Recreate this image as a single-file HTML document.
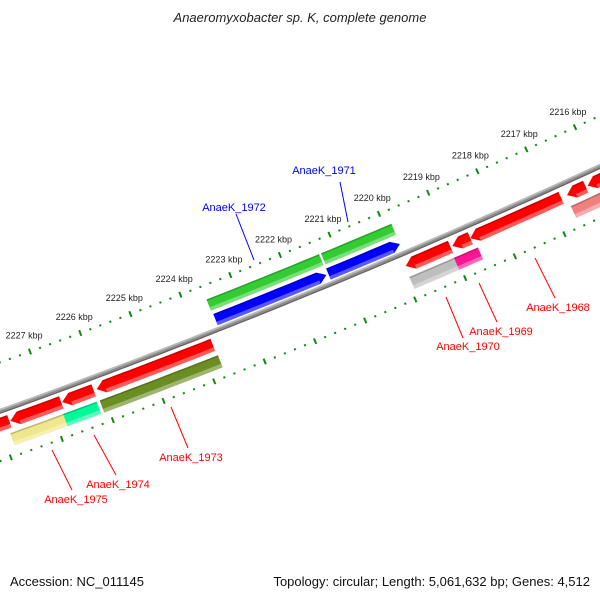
<!DOCTYPE html>
<html><head><meta charset="utf-8"><style>
html,body{margin:0;padding:0;background:#fff;}
svg{display:block;font-family:"Liberation Sans",sans-serif;}
</style></head><body>
<svg id="map" width="600" height="600" viewBox="0 0 600 600" xmlns="http://www.w3.org/2000/svg">
<rect width="600" height="600" fill="#fff"/>
<text x="300" y="22" text-anchor="middle" font-size="13" font-style="italic" fill="#222">Anaeromyxobacter sp. K, complete genome</text>
<text x="10" y="586" font-size="13" fill="#111">Accession: NC_011145</text>
<text x="590" y="586" text-anchor="end" font-size="13" fill="#111">Topology: circular; Length: 5,061,632 bp; Genes: 4,512</text>
<g id="layer"></g>
</svg>
<script>
// ---- data ----
const tickKbp = [2216,2217,2218,2219,2220,2221,2222,2223,2224,2225,2226,2227];
const tickLabels = ["2216 kbp","2217 kbp","2218 kbp","2219 kbp","2220 kbp","2221 kbp","2222 kbp","2223 kbp","2224 kbp","2225 kbp","2226 kbp","2227 kbp"];
// outer red row (arrows point toward higher kbp)
const redStarts = [2227.8, 2226.78, 2226.14, 2223.78, 2219.02, 2218.62, 2216.78, 2216.28, 2214.5];
const redEnds   = [2228.6, 2227.78, 2226.76, 2226.08, 2219.92, 2218.98, 2218.62, 2216.66, 2216.24];
// outer colored row
const rowStarts = [2226.76, 2226.16, 2223.76, 2219.0, 2218.56, 2215.5];
const rowEnds   = [2227.86, 2226.82, 2226.1, 2219.94, 2219.04, 2216.68];
const rowColors = ["#f0e68c","#00fa9a","#6b8e23","#bebebe","#ff1493","#f08080"];
// inner rows
const blueStarts = [2221.34, 2219.86];
const blueEnds   = [2223.56, 2221.30];
const greenStarts = [2221.32, 2219.86];
const greenEnds   = [2223.58, 2221.28];
// gene labels
const geneNames = ["AnaeK_1971","AnaeK_1972","AnaeK_1968","AnaeK_1969","AnaeK_1970","AnaeK_1973","AnaeK_1974","AnaeK_1975"];
const geneLabelX = [324,234,558,501,468,191,118,76];
const geneLabelY = [174,211,311,335,350,461,488,503];
const geneLineFrom = [[340,182],[236,214],[535,258],[479,283],[446,297],[171,407],[94,435],[52,450]];
const geneLineTo = [[348,222],[254,260],[555,298],[497,322],[463,338],[188,448],[116,475],[72,490]];
const geneColors = ["#0000ff","#0000ff","#ff0000","#ff0000","#ff0000","#ff0000","#ff0000","#ff0000"];

// ---- geometry ----
const CX=-2492, CY=-6549, R0=7393;
const TH0=66.58*Math.PI/180, DA=53.6/7347;
function P(k,d){const t=TH0+(k-2219)*DA, r=R0+d; return [CX+r*Math.cos(t), CY+r*Math.sin(t)];}
const NS="http://www.w3.org/2000/svg";
const layer=document.getElementById('layer');
function fmt(p){return p[0].toFixed(1)+","+p[1].toFixed(1);}
function band(k1,k2,d1,d2,head,h){
  // head: 0 none, 1 at high k, -1 at low k
  let a=k1,b=k2;
  if(head===1) b=k2-h; if(head===-1) a=k1+h;
  const pts=[]; const n=Math.max(2,Math.ceil((b-a)/0.2));
  for(let i=0;i<=n;i++) pts.push(P(a+(b-a)*i/n,d1));
  if(head===1) pts.push(P(k2,(d1+d2)/2));
  for(let i=n;i>=0;i--) pts.push(P(a+(b-a)*i/n,d2));
  if(head===-1) pts.push(P(k1,(d1+d2)/2));
  return pts.map(fmt).join(" ");
}
function poly(pts,fill,op){const e=document.createElementNS(NS,'polygon');e.setAttribute('points',pts);e.setAttribute('fill',fill);if(op)e.setAttribute('fill-opacity',op);layer.appendChild(e);return e;}

// backbone
let bb=poly(band(2214,2229.5,-2.5,-0.8,0,0),"#b8b8b8");


bb=poly(band(2214,2229.5,-0.8,1,0,0),"#8c8c8c");


bb=poly(band(2214,2229.5,1,2.5,0,0),"#666");



function gene(k1,k2,d1,d2,color,head,name,light){
  const e=poly(band(k1,k2,d1,d2,head,0.16),color);
  
  
  const l=poly(band(k1+(head===-1?0.16:0),k2-(head===1?0.16:0),d2-(d2-d1)*0.3,d2,0,0),light||"#fff",0.35);
  
  
  const dk=poly(band(k1+(head===-1?0.16:0),k2-(head===1?0.16:0),d1,d1+1.5,0,0),"#000",0.2);
  
  
}
for(let i=0;i<redStarts.length;i++) gene(redStarts[i],redEnds[i],6,19,"#ff0000",1,"red-gene-"+i);
for(let i=0;i<rowStarts.length;i++) gene(rowStarts[i],rowEnds[i],24,37,rowColors[i],0,"feature-"+i);
for(let i=0;i<blueStarts.length;i++) gene(blueStarts[i],blueEnds[i],-16,-4,"#0000ff",-1,"blue-gene-"+i);
for(let i=0;i<greenStarts.length;i++) gene(greenStarts[i],greenEnds[i],-32,-20,"#33cc33",0,"green-gene-"+i);

// ticks
function line(p1,p2,color,w){const e=document.createElementNS(NS,'line');e.setAttribute('x1',p1[0]);e.setAttribute('y1',p1[1]);e.setAttribute('x2',p2[0]);e.setAttribute('y2',p2[1]);e.setAttribute('stroke',color);e.setAttribute('stroke-width',w);layer.appendChild(e);return e;}
const ringD=[-46,47];
for(const rd of ringD){
  for(let j=0;j<=80;j++){
    const k=2213+j*0.2;
    const major=Math.abs(k-Math.round(k))<1e-6;
    const len=major?3:1;
    const t=line(P(k,rd-len),P(k,rd+len),"#118811",2);
    
    
  }
}
for(let i=0;i<tickKbp.length;i++){
  const p=P(tickKbp[i],-63);
  const t=document.createElementNS(NS,'text');
  t.setAttribute('x',p[0]);t.setAttribute('y',p[1]+3);
  t.setAttribute('text-anchor','middle');t.setAttribute('font-size','9');t.setAttribute('fill','#222');
  t.textContent=tickLabels[i];
  
  
  layer.appendChild(t);
}
// gene labels
for(let i=0;i<geneNames.length;i++){
  const l=line(geneLineFrom[i],geneLineTo[i],geneColors[i],1);
  
  
  const t=document.createElementNS(NS,'text');
  t.setAttribute('x',geneLabelX[i]);t.setAttribute('y',geneLabelY[i]);
  t.setAttribute('text-anchor','middle');t.setAttribute('font-size','11');t.setAttribute('fill',geneColors[i]);
  t.textContent=geneNames[i];
  
  
  layer.appendChild(t);
}
</script>
</body></html>
